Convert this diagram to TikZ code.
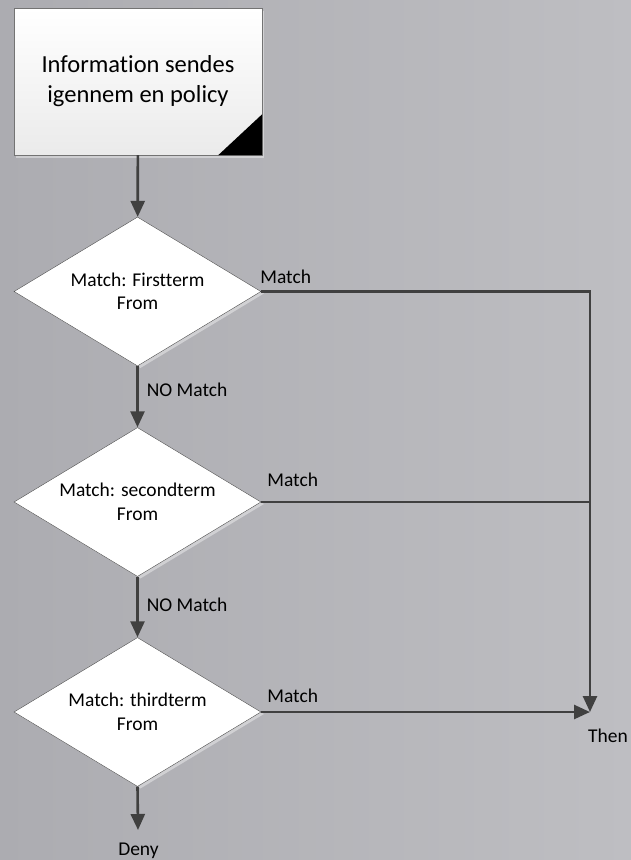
\documentclass[tikz,border=0pt]{standalone}
\usepackage{fontspec}
\setmainfont{Carlito}[RawFeature={-liga;-clig}]
\usepackage{tikz}
\usetikzlibrary{arrows.meta, shapes.geometric, shadows}
\definecolor{metalL}{RGB}{172,172,177}
\definecolor{metalR}{RGB}{190,190,194}
\definecolor{wirecol}{RGB}{64,64,64}

\begin{document}
\begin{tikzpicture}[x=1pt, y=-1pt,
	policy box/.style={draw=black!55, top color=white, bottom color=black!8, align=center,
	minimum width=248pt, minimum height=147pt, inner sep=0pt, font=\fontsize{24.5}{30}\selectfont,
	drop shadow={fill=white, opacity=.4, shadow xshift=2pt, shadow yshift=-3pt}},
	term/.style={diamond, aspect=1.67, draw=black!70, fill=white, align=center,
	minimum width=247pt, minimum height=149pt, inner sep=0pt, font=\fontsize{19.5}{23.5}\selectfont,
	drop shadow={fill=white, opacity=.4, shadow xshift=3pt, shadow yshift=-2pt}},
	arr/.style={-{Triangle[length=16pt, width=14pt]}, line width=2.6pt, draw=wirecol},
	conn/.style={line width=2.6pt, draw=wirecol},
	lbl/.style={font=\fontsize{19.5}{23.5}\selectfont, inner sep=2pt}]

	\useasboundingbox (0,0) rectangle (631,860);
	\fill[left color=metalL, right color=metalR] (0,0) rectangle (631,860);

	\node [policy box] (info) at (138,81.5) {Information sendes\\igennem en policy};
	\fill (info.south east) -- ++(0,-41) -- ++(-44,41) -- cycle;

	\node [term] (first) at (137.5,291.5) {Match: Firstterm\\From};
	\node [term] (second) at (137.5,502) {Match: secondterm\\From};
	\node [term] (third) at (137.5,712) {Match: thirdterm\\From};

	\coordinate (then) at (590,712);
	\coordinate (denytip) at (138,830);

	\draw [arr] (info) -- (first);
	\draw [arr] (first) -- (second) node[lbl, pos=.38, right=6pt] {NO Match};
	\draw [arr] (second) -- (third) node[lbl, pos=.47, right=6pt] {NO Match};
	\draw [arr] (first.east) -| (then);
	\draw [conn] (second.east) -- (second.east -| then);
	\draw [arr] (third.east) -- (then);
	\draw [arr] (third.south) -- (denytip);

	\node [lbl, anchor=west, xshift=-3pt, yshift=15pt] (match1) at (first.east) {Match};
	\node [lbl, anchor=west, xshift=4pt, yshift=22pt] (match2) at (second.east) {Match};
	\node [lbl, anchor=west, xshift=4pt, yshift=16pt] (match3) at (third.east) {Match};
	\node [lbl] (thenlbl) at (608,736) {Then};
	\node [lbl] (deny) at (138.5,851) {Deny};
\end{tikzpicture}
\end{document}
